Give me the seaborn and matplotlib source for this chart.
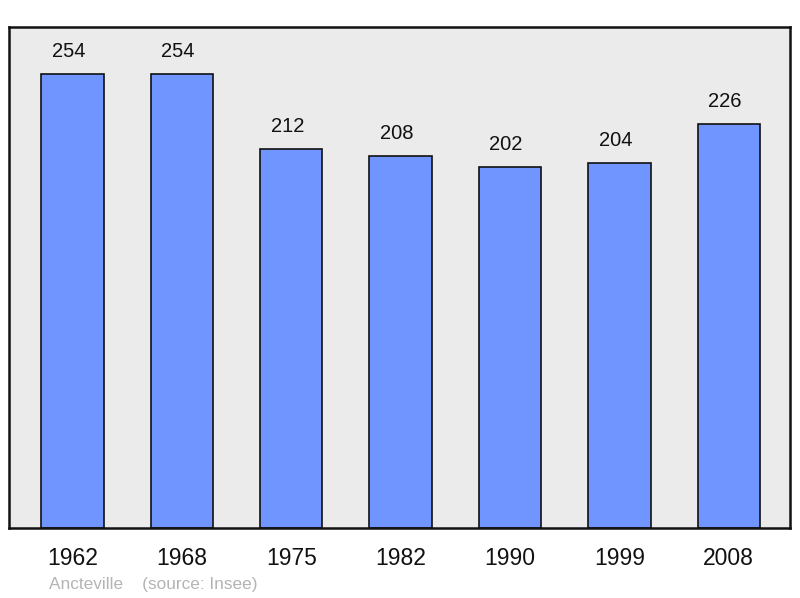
import matplotlib
matplotlib.use("Agg")
import matplotlib.pyplot as plt
import seaborn as sns
import pandas as pd
from matplotlib.transforms import offset_copy

years = ["1962", "1968", "1975", "1982", "1990", "1999", "2008"]
population = [254, 254, 212, 208, 202, 204, 226]
caption = "Ancteville    (source: Insee)"

sns.set_style("white")
plt.rcParams["font.family"] = ["Liberation Sans", "DejaVu Sans"]

df = pd.DataFrame({"year": years, "pop": population})

fig = plt.figure(figsize=(8, 5.98), dpi=100)
ax = fig.add_axes([9/800, 1 - 528/598, 781/800, 501/598])
ax.set_facecolor("#ebebeb")

sns.barplot(data=df, x="year", y="pop", color="#7095ff", saturation=1,
            width=0.57, edgecolor="#111111", linewidth=1.2, ax=ax)

trans = offset_copy(ax.transData, fig=fig, x=-4, y=0, units="dots")
for i, v in enumerate(population):
    ax.text(i, v + 7, str(v), ha="center", va="bottom", fontsize=14.5,
            color="#111111", transform=trans)

ax.set_xlim(-0.58, 6.56)
ax.set_ylim(0, 280)
ax.set_xlabel("")
ax.set_ylabel("")
ax.set_yticks([])
ax.tick_params(axis="x", length=0, labelsize=16.5, pad=14, colors="#111111")
for s in ax.spines.values():
    s.set_visible(True)
    s.set_linewidth(1.8)
    s.set_color("#111111")

fig.text(49/800, 1 - 584/598, caption, fontsize=12.4, color="#b4b4b4",
         ha="left", va="center")

fig.savefig("out.png", dpi=100, facecolor="white")
